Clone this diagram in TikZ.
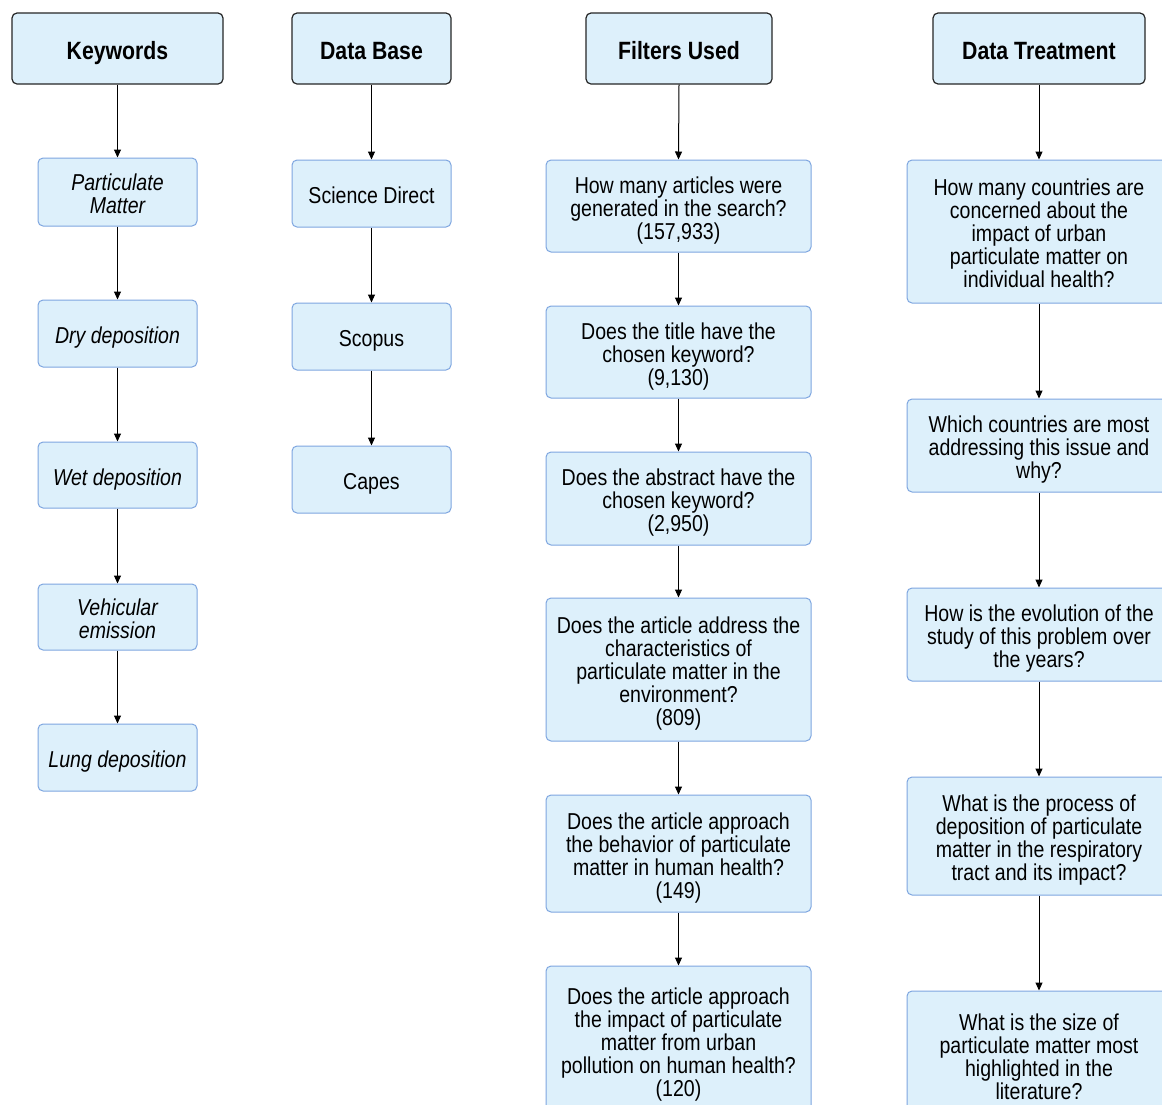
\documentclass[tikz,border=0pt]{standalone}
\usepackage{fontspec}
\setmainfont[FakeStretch=0.85]{Liberation Sans}
\usetikzlibrary{arrows.meta}
\definecolor{boxfill}{HTML}{DDF0FB}
\definecolor{boxline}{HTML}{7EA6E0}
\begin{document}
\begin{tikzpicture}[x=1pt,y=-1pt,
 hdr/.style={draw=black!85, fill=boxfill, rounded corners=5pt, line width=1.2pt, font=\fontsize{25}{27}\selectfont\bfseries, align=center, inner sep=0pt, text height=21pt, text depth=0pt},
 itm/.style={draw=boxline, fill=boxfill, rounded corners=5pt, line width=1pt, font=\fontsize{23}{23}\selectfont, align=center, inner sep=0pt, text height=20pt, text depth=0pt},
 kw/.style={itm, font=\fontsize{23}{23}\selectfont\itshape},
 two/.style={text height=43pt},
 three/.style={text height=66pt},
 four/.style={text height=89pt},
 five/.style={text height=112pt},
 arr/.style={-{Triangle[length=8pt,width=7pt]}, line width=1pt}]
\useasboundingbox (0,0) rectangle (1162,1104);
\clip (0,0) rectangle (1162,1104);
\fill[white] (0,0) rectangle (1162,1104);
% headers
\node[hdr, minimum width=211, minimum height=71] (h1) at (117.5,48.5) {Keywords};
\node[hdr, minimum width=159, minimum height=71] (h2) at (371.5,48.5) {Data Base};
\node[hdr, minimum width=186, minimum height=71] (h3) at (679,48.5) {Filters Used};
\node[hdr, minimum width=212, minimum height=71] (h4) at (1039,48.5) {Data Treatment};
% keywords
\node[kw, two, minimum width=159, minimum height=68] (k1) at (117.5,192) {Particulate\\Matter};
\node[kw, minimum width=159, minimum height=67] (k2) at (117.5,333.5) {Dry deposition};
\node[kw, minimum width=159, minimum height=66] (k3) at (117.5,475) {Wet deposition};
\node[kw, two, minimum width=159, minimum height=66] (k4) at (117.5,617) {Vehicular\\emission};
\node[kw, minimum width=159, minimum height=67] (k5) at (117.5,757.5) {Lung deposition};
% data base
\node[itm, minimum width=159, minimum height=67] (d1) at (371.5,193.5) {Science Direct};
\node[itm, minimum width=159, minimum height=67] (d2) at (371.5,336.5) {Scopus};
\node[itm, minimum width=159, minimum height=67] (d3) at (371.5,479.5) {Capes};
% filters
\node[itm, three, minimum width=265, minimum height=92] (f1) at (678.5,206) {How many articles were\\generated in the search?\\(157,933)};
\node[itm, three, minimum width=265, minimum height=92] (f2) at (678.5,352) {Does the title have the\\chosen keyword?\\(9,130)};
\node[itm, three, minimum width=265, minimum height=93] (f3) at (678.5,498.5) {Does the abstract have the\\chosen keyword?\\(2,950)};
\node[itm, five, minimum width=265, minimum height=143] (f4) at (678.5,669.5) {Does the article address the\\characteristics of\\particulate matter in the\\environment?\\(809)};
\node[itm, four, minimum width=265, minimum height=117] (f5) at (678.5,853.5) {Does the article approach\\the behavior of particulate\\matter in human health?\\(149)};
\node[itm, five, minimum width=265, minimum height=148] (f6) at (678.5,1040) {Does the article approach\\the impact of particulate\\matter from urban\\pollution on human health?\\(120)};
% data treatment
\node[itm, five, minimum width=264, minimum height=143] (t1) at (1039,231.5) {How many countries are\\concerned about the\\impact of urban\\particulate matter on\\individual health?};
\node[itm, three, minimum width=264, minimum height=93] (t2) at (1039,445.5) {Which countries are most\\addressing this issue and\\why?};
\node[itm, three, minimum width=264, minimum height=93] (t3) at (1039,634.5) {How is the evolution of the\\study of this problem over\\the years?};
\node[itm, four, minimum width=264, minimum height=118] (t4) at (1039,836) {What is the process of\\deposition of particulate\\matter in the respiratory\\tract and its impact?};
\node[itm, four, minimum width=264, minimum height=128] (t5) at (1039,1055) {What is the size of\\particulate matter most\\highlighted in the\\literature?};
% arrows
\foreach \a/\b in {h1/k1,k1/k2,k2/k3,k3/k4,k4/k5,h2/d1,d1/d2,d2/d3,h3/f1,f1/f2,f2/f3,f3/f4,f4/f5,f5/f6,h4/t1,t1/t2,t2/t3,t3/t4,t4/t5}
  \draw[arr] (\a.south) -- (\b.north);
\end{tikzpicture}
\end{document}
